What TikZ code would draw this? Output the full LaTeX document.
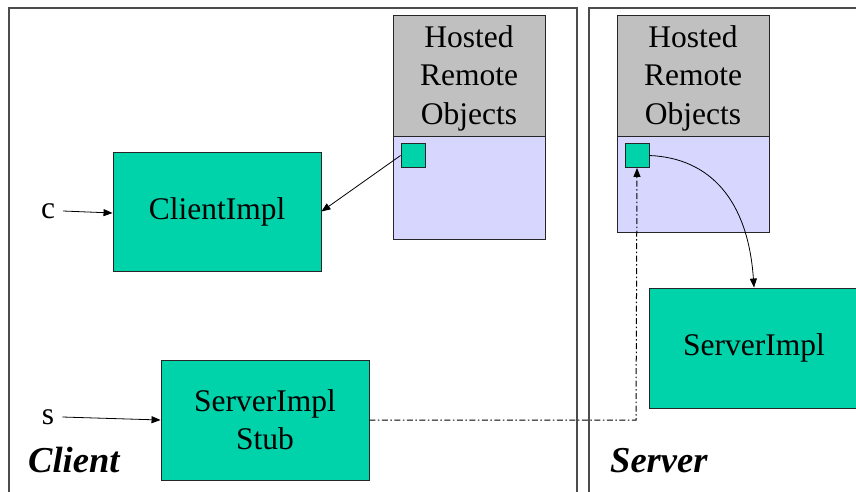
\documentclass[tikz,border=0pt]{standalone}
\usepackage{fontspec}
\setmainfont{Liberation Serif}
\usetikzlibrary{arrows.meta}
\definecolor{teal1}{RGB}{0,210,170}
\definecolor{hrogray}{RGB}{192,192,192}
\definecolor{lav}{RGB}{214,214,255}
\tikzset{
  frame/.style={draw=black!70, line width=1.4pt},
  implbox/.style={draw=black!85, fill=teal1, line width=0.9pt, inner sep=0pt, align=center,
    font=\fontsize{31.5}{38}\selectfont},
  hrohead/.style={draw=black!85, fill=hrogray, line width=0.9pt, inner sep=0pt},
  hrotext/.style={inner sep=0pt, align=center, font=\fontsize{31.5}{38.5}\selectfont},
  hrobody/.style={draw=black!85, fill=lav, line width=0.9pt, inner sep=0pt},
  objsq/.style={draw=black!85, fill=teal1, line width=0.9pt, inner sep=0pt, minimum size=24pt},
  side/.style={font=\fontsize{36.5}{40}\selectfont\bfseries\itshape, anchor=base west, inner sep=0pt},
  ref/.style={font=\fontsize{31.5}{38}\selectfont, inner sep=0pt},
  link/.style={-{Triangle[length=9pt,width=7pt]}, line width=0.8pt},
  remote/.style={-{Triangle[length=9pt,width=7pt]}, draw=black, line width=1pt,
    dash pattern=on 6pt off 2.5pt on 1.5pt off 2.5pt}
}
\begin{document}
\begin{tikzpicture}[x=1pt,y=-1pt]
\useasboundingbox[fill=white] (0,0) rectangle (856,491);
% frames
\draw[frame] (9,495) -- (9,8) -- (577,8) -- (577,495);
\draw[frame] (589,495) -- (589,8) -- (860,8);
% hosted remote objects, client side
\node[hrobody, minimum width=152pt, minimum height=103pt] (chb) at (469,187.5) {};
\node[hrohead, minimum width=152pt, minimum height=121pt] (chh) at (469,75.5) {};
\node[hrotext] (cht) at (469,78) {Hosted\\Remote\\Objects};
\node[objsq] (cobj) at (413,155.5) {};
% hosted remote objects, server side
\node[hrobody, minimum width=152pt, minimum height=96pt] (shb) at (693,184) {};
\node[hrohead, minimum width=152pt, minimum height=121pt] (shh) at (693,75.5) {};
\node[hrotext] (sht) at (693,78) {Hosted\\Remote\\Objects};
\node[objsq] (sobj) at (637,155.5) {};
% implementation boxes
\node[implbox, minimum width=208pt, minimum height=119pt] (cimpl) at (217,211.5) {ClientImpl};
\node[implbox, minimum width=208pt, minimum height=120pt] (stub) at (265,420) {ServerImpl\\Stub};
\node[implbox, minimum width=210pt, minimum height=120pt] (simpl) at (754,348) {ServerImpl};
% references
\node[ref] (c) at (48,211) {c};
\node[ref] (s) at (48,417) {s};
\draw[link] (c.east) ++(8,0) coordinate (cs) -- (cimpl.west |- 0,213);
\draw[link] (s.east) ++(8,0) coordinate (ss) -- (stub.west);
\draw[link] (cobj.west) -- (cimpl.east);
\draw[link] (sobj.east) .. controls (710,158) and (748,200) .. (simpl.north);
\draw[remote] (stub.east) -- (636,420) -- (sobj.south);
% side labels
\node[side] (cl) at (28,472) {Client};
\node[side] (sl) at (610,472) {Server};
\end{tikzpicture}
\end{document}
